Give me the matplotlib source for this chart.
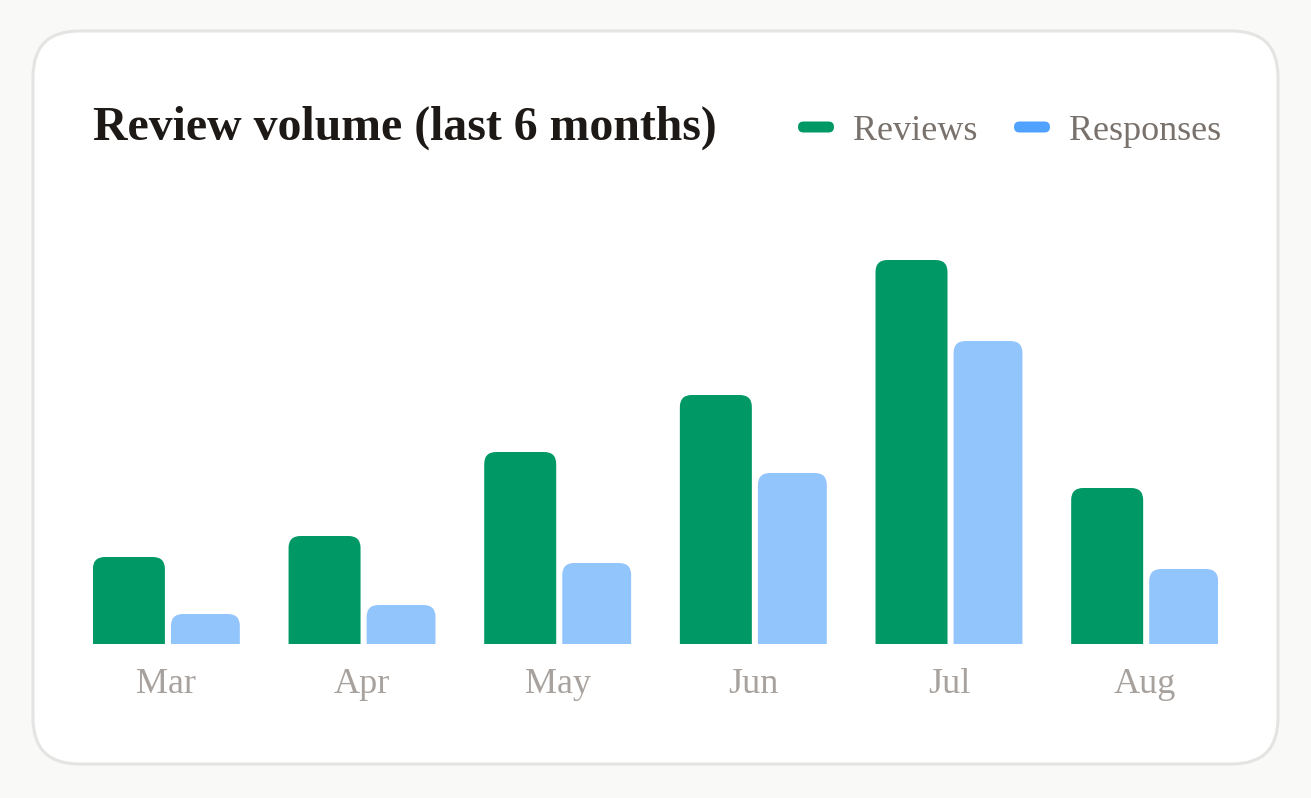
import numpy as np
import matplotlib
matplotlib.use("Agg")
import matplotlib.pyplot as plt
from matplotlib.patches import FancyBboxPatch

# data
months = ["Mar", "Apr", "May", "Jun", "Jul", "Aug"]
reviews = [29, 36, 64, 83, 128, 52]
responses = [10, 13, 27, 57, 101, 25]

GREEN = "#009966"
BLUE_BAR = "#93c5fd"
BLUE_KEY = "#51a2ff"
W, H = 1311, 798

plt.rcParams["font.family"] = ["Liberation Serif", "DejaVu Serif"]

fig = plt.figure(figsize=(W / 100, H / 100), dpi=100)
fig.patch.set_facecolor("#f9f9f7")

# card background in pixel coordinates
bg = fig.add_axes([0, 0, 1, 1], zorder=0)
bg.set_xlim(0, W)
bg.set_ylim(H, 0)
bg.axis("off")
bg.add_patch(FancyBboxPatch((33, 31), 1245, 733,
                            boxstyle="round,pad=0,rounding_size=46",
                            facecolor="white", edgecolor="#e4e4e2", lw=2.2))

# title + legend
fig.text(93 / W, 1 - 140 / H, "Review volume (last 6 months)", fontsize=34.4,
         fontweight="bold", color="#1c1917", va="baseline", ha="left")
for x0, lab, col in [(798, "Reviews", GREEN), (1014, "Responses", BLUE_KEY)]:
    bg.add_patch(FancyBboxPatch((x0, 121.5), 36, 11,
                                boxstyle="round,pad=0,rounding_size=5.5",
                                facecolor=col, edgecolor="none"))
    bg.text(x0 + 55, 140, lab, fontsize=26, color="#78716c",
            va="baseline", ha="left")

# bar chart
ax = fig.add_axes([93 / W, (H - 644) / H, 1125 / W, 384 / H], zorder=1)
ax.patch.set_alpha(0)
xlim = (-0.375, 5.375)
ylim = (0, 128)
ax.set_xlim(*xlim)
ax.set_ylim(*ylim)
for s in ax.spines.values():
    s.set_visible(False)
ax.set_yticks([])
x = np.arange(len(months))
ax.set_xticks(x, months)
ax.tick_params(axis="x", length=0, pad=17, labelsize=26, labelcolor="#a8a29e")

bw_g = 0.368
bw_b = 0.352
gap = 0.031
px_x = 1125 / (xlim[1] - xlim[0])
px_y = 384 / (ylim[1] - ylim[0])
R = 12
rx = R / px_x
ry = R / px_y

def rounded_bars(xs, vals, width, color):
    bars = ax.bar(xs, vals, width=width, align="edge", color=color)
    for b in bars:
        bx, bwid, bh = b.get_x(), b.get_width(), b.get_height()
        b.remove()
        # extend below the baseline so only the top corners show rounded
        ax.add_patch(FancyBboxPatch((bx, -3 * ry), bwid, bh + 3 * ry,
                                    boxstyle=f"round,pad=0,rounding_size={rx}",
                                    mutation_aspect=ry / rx,
                                    facecolor=color, edgecolor="none"))

rounded_bars(x - 0.3755, reviews, bw_g, GREEN)
rounded_bars(x - 0.3755 + bw_g + gap, responses, bw_b, BLUE_BAR)

fig.savefig("out.png", dpi=100, facecolor=fig.get_facecolor())
